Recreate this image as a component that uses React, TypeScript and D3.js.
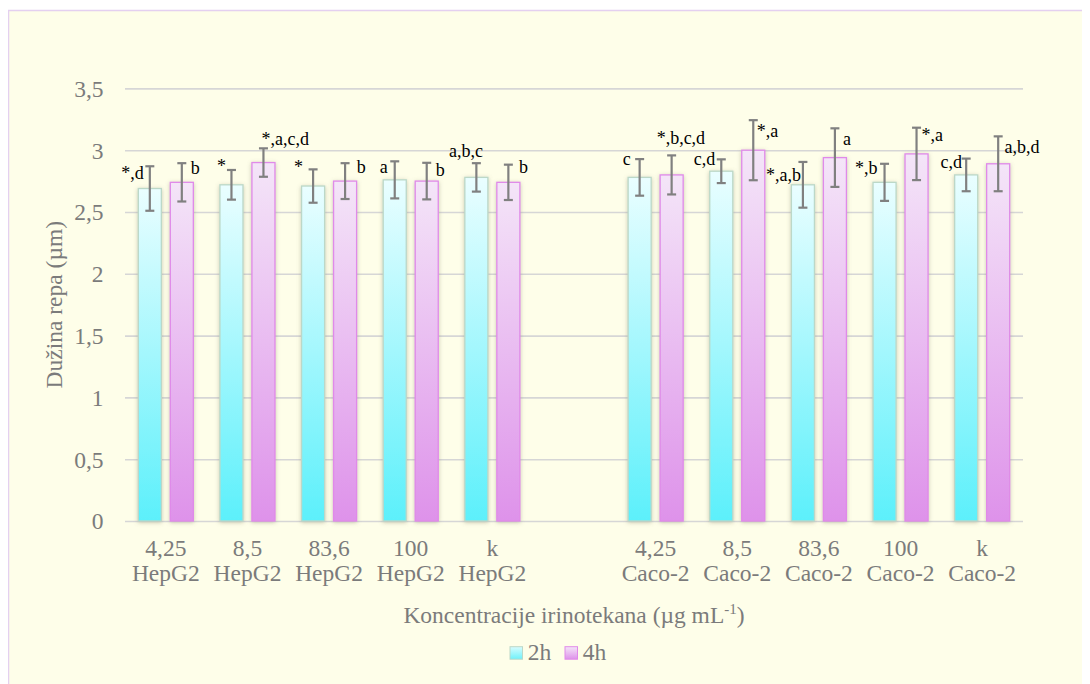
import { useEffect, useRef } from "react";
import * as d3 from "d3";

// podaci
const concentrations = ["4,25", "8,5", "83,6", "100", "k"];
const cellLines = ["HepG2", "Caco-2"];
const seriesNames = ["2h", "4h"];

const hepG2_2h = [2.69, 2.72, 2.71, 2.76, 2.78];
const hepG2_4h = [2.74, 2.9, 2.75, 2.75, 2.74];
const caco2_2h = [2.78, 2.83, 2.72, 2.74, 2.8];
const caco2_4h = [2.8, 3.0, 2.94, 2.97, 2.89];

const hepG2_2hErr = [0.18, 0.12, 0.135, 0.15, 0.115];
const hepG2_4hErr = [0.155, 0.115, 0.145, 0.148, 0.143];
const caco2_2hErr = [0.148, 0.096, 0.185, 0.15, 0.132];
const caco2_4hErr = [0.158, 0.243, 0.237, 0.212, 0.222];

const hepG2_2hLabels = ["*,d", "*", "*", "a", "a,b,c"];
const hepG2_4hLabels = ["b", "*,a,c,d", "b", "b", "b"];
const caco2_2hLabels = ["c", "c,d", "*,a,b", "*,b", "c,d"];
const caco2_4hLabels = ["*,b,c,d", "*,a", "a", "*,a", "a,b,d"];

const yTicks = [0, 0.5, 1, 1.5, 2, 2.5, 3, 3.5];

// pomaci oznaka (anchor, dx, dy) u odnosu na vrh greške
const labelNudge2h: [string, number, number][] = [
  ["end", -6, 13], ["end", -5.5, 2], ["end", -10, 3.5], ["end", -7, 12], ["end", 6.6, -6],
  ["end", -9, 6], ["end", -6, 6], ["end", -2, 18.7], ["end", -7, 10.7], ["end", -4.3, 9],
];
const labelNudge4h: [string, number, number][] = [
  ["start", 9, 11], ["start", -2, -3], ["start", 11.7, 10], ["start", 9, 13.5], ["start", 10.7, 8],
  ["start", -15, -11.7], ["start", 3.4, 16.7], ["start", 8, 16.3], ["start", 5, 13.4], ["start", 6.3, 16.6],
];

const WIDTH = 1082;
const HEIGHT = 676;
const SERIF = "Liberation Serif, Times New Roman, DejaVu Serif, serif";
const AXIS_GREY = "#7b7b7b";

export default function App() {
  const svgRef = useRef<SVGSVGElement>(null);

  useEffect(() => {
    if (!svgRef.current) return;
    const svg = d3.select(svgRef.current);
    svg.selectAll("*").remove();

    const margin = { top: 80.4, right: 67, bottom: 163, left: 117 };
    const innerWidth = WIDTH - margin.left - margin.right;
    const innerHeight = HEIGHT - margin.top - margin.bottom;

    // kategorije: HepG2, prazno mjesto, Caco-2
    const categories = [
      ...concentrations.map((c) => `${c}|${cellLines[0]}`),
      "gap",
      ...concentrations.map((c) => `${c}|${cellLines[1]}`),
    ];
    const rows = [
      ...concentrations.map((_c, i) => ({
        key: `${concentrations[i]}|${cellLines[0]}`,
        values: [hepG2_2h[i], hepG2_4h[i]],
        errs: [hepG2_2hErr[i], hepG2_4hErr[i]],
        labels: [hepG2_2hLabels[i], hepG2_4hLabels[i]],
      })),
      ...concentrations.map((_c, i) => ({
        key: `${concentrations[i]}|${cellLines[1]}`,
        values: [caco2_2h[i], caco2_4h[i]],
        errs: [caco2_2hErr[i], caco2_4hErr[i]],
        labels: [caco2_2hLabels[i], caco2_4hLabels[i]],
      })),
    ];

    const defs = svg.append("defs");
    const grad = (id: string, top: string, bottom: string) => {
      const lg = defs.append("linearGradient").attr("id", id).attr("x1", 0).attr("y1", 0).attr("x2", 0).attr("y2", 1);
      lg.append("stop").attr("offset", "0%").attr("stop-color", top);
      lg.append("stop").attr("offset", "100%").attr("stop-color", bottom);
    };
    grad("g2h", "#eafeff", "#5cf0fb");
    grad("g4h", "#f4e5f8", "#de92ea");
    grad("leg2h", "#d8fcfe", "#6ef1fa");
    defs
      .append("filter")
      .attr("id", "shadow")
      .attr("x", "-30%")
      .attr("y", "-10%")
      .attr("width", "160%")
      .attr("height", "120%")
      .append("feDropShadow")
      .attr("dx", 0)
      .attr("dy", 1)
      .attr("stdDeviation", 2.2)
      .attr("flood-color", "#8a8a70")
      .attr("flood-opacity", 0.45);

    // pozadina
    svg
      .append("rect")
      .attr("x", 0.5)
      .attr("y", 2.5)
      .attr("width", 1200)
      .attr("height", 800)
      .attr("fill", "#fefee9")
      .attr("stroke", "#e4d0f0")
      .attr("stroke-width", 1.5);

    const g = svg.append("g").attr("transform", `translate(${margin.left},${margin.top})`);

    const x = d3.scaleBand().domain(categories).range([0, innerWidth]).padding(0);
    const bw = x.bandwidth();
    const x1 = d3
      .scaleBand()
      .domain(seriesNames)
      .range([bw * 0.163, bw * 0.837])
      .paddingInner(0.28);
    const y = d3.scaleLinear().domain([0, 3.5]).range([innerHeight, 0]);

    // mreža
    g.append("g")
      .call(
        d3
          .axisLeft(y)
          .tickValues(yTicks)
          .tickSize(-innerWidth)
          .tickFormat(() => ""),
      )
      .call((s) => s.select(".domain").remove())
      .selectAll("line")
      .attr("stroke", "#d6d6d6")
      .attr("stroke-width", 1.6);

    // Y oznake
    g.append("g")
      .selectAll("text")
      .data(yTicks)
      .enter()
      .append("text")
      .attr("x", -21.5)
      .attr("y", (d) => y(d) + 8.5)
      .attr("text-anchor", "end")
      .attr("font-family", SERIF)
      .attr("font-size", 23.5)
      .attr("fill", AXIS_GREY)
      .text((d) => String(d).replace(".", ","));

    // stupci
    const groups = g
      .selectAll(".grp")
      .data(rows)
      .enter()
      .append("g")
      .attr("transform", (d) => `translate(${x(d.key)},0)`);

    const fills = ["url(#g2h)", "url(#g4h)"];
    const strokes = ["#bcd8c8", "#e08ae9"];

    groups
      .selectAll("rect")
      .data((d) => d.values.map((v, i) => ({ v, i })))
      .enter()
      .append("rect")
      .attr("x", (d) => x1(seriesNames[d.i]) || 0)
      .attr("y", (d) => y(d.v))
      .attr("width", x1.bandwidth())
      .attr("height", (d) => innerHeight - y(d.v))
      .attr("fill", (d) => fills[d.i])
      .attr("stroke", (d) => strokes[d.i])
      .attr("stroke-width", 1.3)
      .attr("filter", "url(#shadow)");

    // greške
    const err = groups
      .selectAll(".err")
      .data((d) => d.values.map((v, i) => ({ v, e: d.errs[i], i })))
      .enter()
      .append("g")
      .attr("stroke", "#808080")
      .attr("stroke-width", 2.2);
    const cx = (i: number) => (x1(seriesNames[i]) || 0) + x1.bandwidth() / 2;
    err
      .append("line")
      .attr("x1", (d) => cx(d.i))
      .attr("x2", (d) => cx(d.i))
      .attr("y1", (d) => y(d.v + d.e))
      .attr("y2", (d) => y(d.v - d.e));
    err
      .append("line")
      .attr("x1", (d) => cx(d.i) - 4.5)
      .attr("x2", (d) => cx(d.i) + 4.5)
      .attr("y1", (d) => y(d.v + d.e))
      .attr("y2", (d) => y(d.v + d.e));
    err
      .append("line")
      .attr("x1", (d) => cx(d.i) - 4.5)
      .attr("x2", (d) => cx(d.i) + 4.5)
      .attr("y1", (d) => y(d.v - d.e))
      .attr("y2", (d) => y(d.v - d.e));

    // oznake značajnosti
    groups.each(function (d, ri) {
      const grp = d3.select(this);
      d.values.forEach((v, i) => {
        const nudge = i === 0 ? labelNudge2h[ri] : labelNudge4h[ri];
        grp
          .append("text")
          .attr("x", cx(i) + nudge[1])
          .attr("y", y(v + d.errs[i]) + nudge[2])
          .attr("text-anchor", nudge[0])
          .attr("font-family", SERIF)
          .attr("font-size", 18)
          .attr("fill", "#000")
          .text(d.labels[i]);
      });
    });

    // X oznake
    const xl = g
      .append("g")
      .selectAll("text")
      .data(rows)
      .enter()
      .append("text")
      .attr("text-anchor", "middle")
      .attr("font-family", SERIF)
      .attr("font-size", 23.5)
      .attr("fill", AXIS_GREY);
    xl.append("tspan")
      .attr("x", (d) => (x(d.key) || 0) + bw / 2)
      .attr("y", innerHeight + 35)
      .text((d) => d.key.split("|")[0]);
    xl.append("tspan")
      .attr("x", (d) => (x(d.key) || 0) + bw / 2)
      .attr("y", innerHeight + 60)
      .text((d) => d.key.split("|")[1]);

    // naslov X osi
    const xt = svg
      .append("text")
      .attr("x", margin.left + innerWidth / 2)
      .attr("y", 614.5)
      .attr("text-anchor", "middle")
      .attr("font-family", SERIF)
      .attr("font-size", 23.5)
      .attr("fill", AXIS_GREY);
    xt.append("tspan").text("Koncentracije irinotekana (µg mL");
    xt.append("tspan").attr("dy", -9).attr("font-size", 15).text("-1");
    xt.append("tspan").attr("dy", 9).text(")");

    // naslov Y osi
    svg
      .append("text")
      .attr("transform", `translate(53.5,${margin.top + innerHeight / 2}) rotate(-90)`)
      .attr("text-anchor", "middle")
      .attr("font-family", SERIF)
      .attr("font-size", 23.5)
      .attr("fill", AXIS_GREY)
      .text("Dužina repa (µm)");

    // legenda
    const legend = svg.append("g").attr("transform", "translate(502,638.7)");
    const legFills = ["url(#leg2h)", "url(#g4h)"];
    seriesNames.forEach((name, i) => {
      const item = legend.append("g").attr("transform", `translate(${i * 55},0)`);
      item
        .append("rect")
        .attr("width", 12.5)
        .attr("height", 12.5)
        .attr("fill", legFills[i])
        .attr("stroke", strokes[i])
        .attr("stroke-width", 1);
      item
        .append("text")
        .attr("x", 17.7)
        .attr("y", 13.3)
        .attr("font-family", SERIF)
        .attr("font-size", 23.5)
        .attr("fill", AXIS_GREY)
        .text(name);
    });
  }, []);

  return <svg ref={svgRef} width={WIDTH} height={HEIGHT} viewBox={`0 0 ${WIDTH} ${HEIGHT}`} style={{ display: "block" }} />;
}
